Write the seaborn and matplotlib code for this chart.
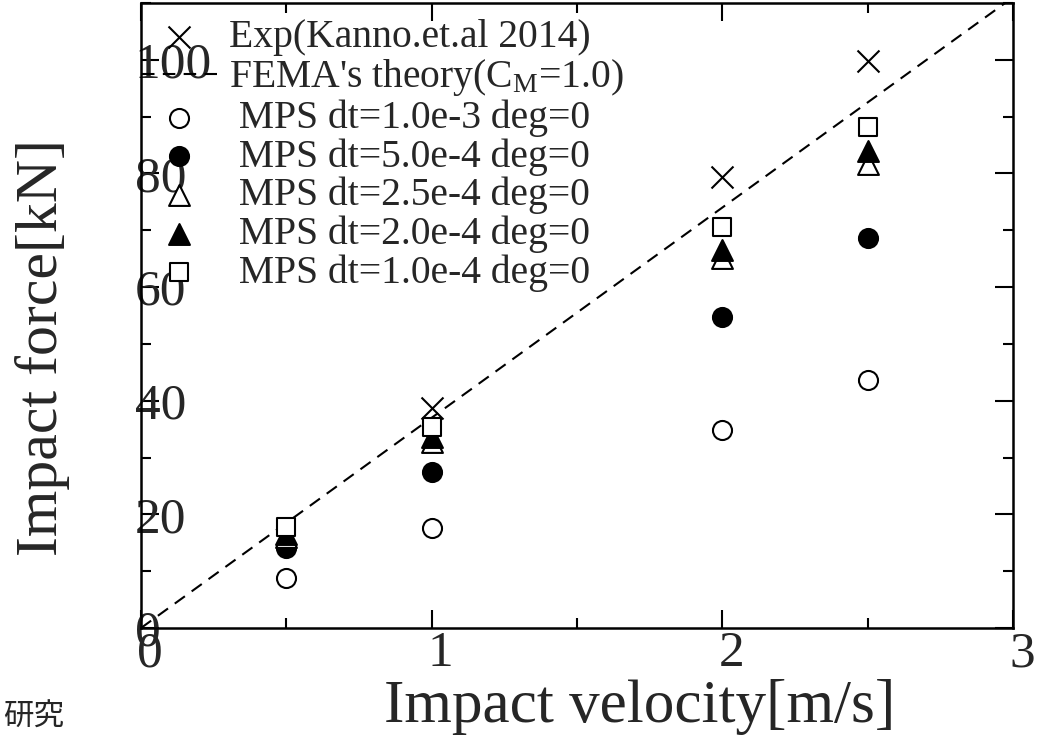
import matplotlib
matplotlib.use("Agg")
import matplotlib.pyplot as plt
import matplotlib.transforms as mtrans
from matplotlib.ticker import MultipleLocator
import pandas as pd
import seaborn as sns

# ---- data ----
velocity_exp = [1.0, 2.0, 2.5]
force_exp = [38.7, 79.4, 99.8]

fema_velocity = [0.0, 3.0]
fema_force = [0.0, 111.0]

velocity_mps = [0.5, 1.0, 2.0, 2.5]
force_dt_1e3 = [8.8, 17.6, 34.9, 43.7]
force_dt_5e4 = [14.0, 27.5, 54.8, 68.7]
force_dt_25e4 = [16.0, 32.7, 65.1, 81.6]
force_dt_2e4 = [16.6, 33.6, 66.5, 83.9]
force_dt_1e4 = [17.8, 35.4, 70.6, 88.2]

x_ticks = [0, 1, 2, 3]
y_ticks = [0, 20, 40, 60, 80, 100]

labels = [
    "Exp(Kanno.et.al 2014)",
    "FEMA's theory(C$_{\\mathrm{M}}$=1.0)",
    " MPS dt=1.0e-3 deg=0",
    " MPS dt=5.0e-4 deg=0",
    " MPS dt=2.5e-4 deg=0",
    " MPS dt=2.0e-4 deg=0",
    " MPS dt=1.0e-4 deg=0",
]

sns.set_style("white")
plt.rcParams["font.family"] = ["Liberation Serif", "DejaVu Serif"]
plt.rcParams["mathtext.fontset"] = "custom"
plt.rcParams["mathtext.rm"] = "Liberation Serif"
plt.rcParams["mathtext.it"] = "Liberation Serif:italic"

fig = plt.figure(figsize=(10.47, 7.5), dpi=100)
ax = fig.add_axes([141 / 1047, 1 - 628 / 750, 872 / 1047, 625 / 750])

lw = 1.5
sns.scatterplot(x=velocity_exp, y=force_exp, marker="x", s=250, color="black",
                linewidth=lw, ax=ax, label=labels[0], zorder=3)
sns.lineplot(x=fema_velocity, y=fema_force, color="black", lw=1.5,
             linestyle=(0, (6, 4)), ax=ax, label=labels[1], zorder=2)
series = [
    (force_dt_1e3, "o", "white", 188),
    (force_dt_5e4, "o", "black", 188),
    (force_dt_25e4, "^", "white", 225),
    (force_dt_2e4, "^", "black", 225),
    (force_dt_1e4, "s", "white", 169),
]
for i, (vals, m, fc, s) in enumerate(series):
    sns.scatterplot(x=velocity_mps, y=vals, marker=m, s=s, facecolor=fc,
                    edgecolor="black", linewidth=lw, ax=ax, label=labels[i + 2],
                    zorder=4 + i)

ax.set_xlim(0, 3)
ax.set_ylim(0, 110)
ax.xaxis.set_major_locator(MultipleLocator(1))
ax.xaxis.set_minor_locator(MultipleLocator(0.5))
ax.yaxis.set_major_locator(MultipleLocator(20))
ax.yaxis.set_minor_locator(MultipleLocator(10))
ax.set_xticks(x_ticks)
ax.set_yticks(y_ticks)
ax.set_xticklabels([str(v) for v in x_ticks])
ax.set_yticklabels([str(v) for v in y_ticks])

for sp in ax.spines.values():
    sp.set_linewidth(1.8)
    sp.set_color("black")

ax.tick_params(which="both", direction="in", top=True, right=True,
               bottom=True, left=True, width=1.5, color="black")
ax.tick_params(which="major", length=13)
ax.tick_params(which="minor", length=7)
ax.tick_params(axis="x", which="major", labelsize=37, pad=2)
ax.tick_params(axis="y", which="major", labelsize=37, pad=4.5)
for lab in ax.get_yticklabels():
    lab.set_horizontalalignment("left")
off = mtrans.ScaledTranslation(0.09, 0, fig.dpi_scale_trans)
for lab in ax.get_xticklabels():
    lab.set_transform(lab.get_transform() + off)

ax.set_xlabel("Impact velocity[m/s]", fontsize=44, va="center", ha="center")
ax.xaxis.set_label_coords(0.572, -0.126)
ax.set_ylabel("Impact force[kN]", fontsize=43, va="center", ha="center")
ax.yaxis.set_label_coords(-0.1135, 0.448)

handles, labs = ax.get_legend_handles_labels()
order = [labs.index(l) for l in labels]
leg = ax.legend([handles[i] for i in order], [labs[i] for i in order],
                loc="upper left", bbox_to_anchor=(0.001, 0.974), frameon=False,
                fontsize=28.5, handlelength=1.9, handletextpad=0.3,
                labelspacing=0.03, borderpad=0, borderaxespad=0)

fig.text(3 / 1047, 1 - 717 / 750, "研究", fontsize=22, va="center", ha="left",
         family=["Noto Sans CJK JP", "DejaVu Sans"])

fig.savefig("out.png", dpi=100)
